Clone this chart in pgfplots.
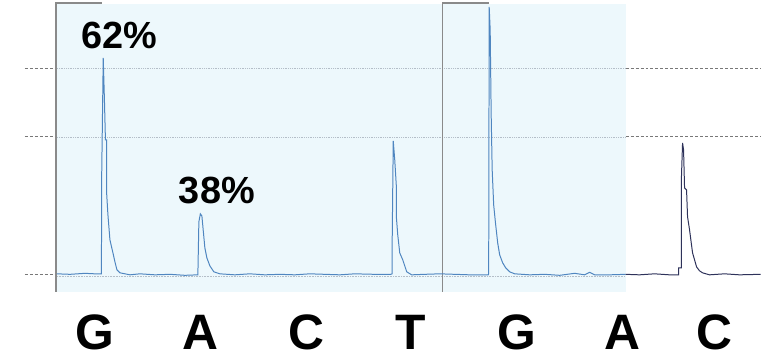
\documentclass[border=0pt]{standalone}
\usepackage{pgfplots}
\pgfplotsset{compat=1.18}
\usepackage{fontspec}
\setmainfont{Liberation Sans}
\definecolor{bluebg}{HTML}{EDF8FC}
\definecolor{trace}{HTML}{4F86C0}
\definecolor{navy}{HTML}{2E325A}
\definecolor{gridin}{HTML}{B4BEC8}
\definecolor{gridout}{HTML}{787878}
\definecolor{frame}{HTML}{8A8A8A}
\begin{document}
\begin{tikzpicture}
\begin{axis}[
  scale only axis, width=761bp, height=361bp,
  xmin=0, xmax=761, ymin=0, ymax=361, y dir=reverse,
  hide axis, clip=false,
]
% page background
\addplot[fill=white, draw=none] coordinates {(0,0)(761,0)(761,361)(0,361)} -- cycle;
% shaded region
\addplot[fill=bluebg, draw=none] coordinates {(57,4)(626,4)(626,292)(57,292)} -- cycle;
% grid lines inside
\addplot[gridin, densely dotted, line width=0.8pt] coordinates {(57,68.5)(626,68.5)};
\addplot[gridin, densely dotted, line width=0.8pt] coordinates {(57,137)(626,137)};
\addplot[gridin, densely dotted, line width=0.6pt] coordinates {(57,276)(626,276)};
% grid lines outside
\addplot[gridout, densely dashed, line width=0.9pt] coordinates {(25,68.5)(56,68.5)};
\addplot[gridout, densely dashed, line width=0.9pt] coordinates {(25,137)(56,137)};
\addplot[gridout, densely dashed, line width=0.9pt] coordinates {(25,275)(56,275)};
\addplot[gridout, densely dashed, line width=0.9pt] coordinates {(626,68.5)(761,68.5)};
\addplot[gridout, densely dashed, line width=0.9pt] coordinates {(626,137)(761,137)};
% frames
\addplot[frame, line width=1.3pt] coordinates {(56,292)(56,3)(102,3)};
\addplot[frame, line width=1.3pt] coordinates {(442.5,292)(442.5,3)(489,3)};
% trace, shaded part
\addplot[trace, line width=1pt] coordinates {
(57,274)(70,274.5)(85,273.5)(95,274)(101.5,274)(101.7,180)(103.3,58)(104.5,100)
(105.5,140)(106.7,140)(106.7,193)(108,215)(110,240)(113,253)(115,262)(117,270)
(120,273)(130,275)(140,274)(155,275)(170,274.5)(185,275.5)(198,275)(199,222)
(200.5,214)(202,216)(203.5,232)(205,248)(207,258)(210,266)(214,272)(220,274)
(235,275)(250,274)(265,275)(280,274.5)(295,275)(310,274)(325,274.5)(340,275)
(355,274)(375,274.5)(391,274.5)(392.3,274)(392.3,255)(393.5,141)(395,160)
(396.7,188)(396.7,218)(398,235)(400,253)(403,260)(405,266)(407,272)(412,275)
(425,274.5)(440,274)(455,274.5)(470,275)(488.5,275)(489,274)(489.5,7)(490.5,30)
(491.5,115)(492.5,170)(494,205)(496,225)(498,243)(500,255)(503,263)(506,268)
(510,272)(515,274)(530,275)(545,274.5)(560,275.5)(575,273.5)(585,275)(590,272.5)
(595,275)(610,275)(626,274.5)};
% trace, unshaded part
\addplot[navy, line width=1pt] coordinates {
(626,274.5)(640,275)(655,274)(670,275)(679,275)(679,268)(681.7,268)(681.7,183)
(683,143)(684,150)(685,188)(687,190)(688,217)(690,230)(693,253)(697,267)(700,271)
(703,273)(710,275)(725,274)(740,275)(761,274.5)};
% labels
\node[font=\fontsize{38}{40}\selectfont\bfseries] at (axis cs:119,35.5) {62\%};
\node[font=\fontsize{38}{40}\selectfont\bfseries] at (axis cs:217,191) {38\%};
\foreach \x/\l in {95/G,201/A,307/C,411/T,517/G,623/A,715/C}{
  \edef\tmp{\noexpand\node[anchor=base, inner sep=0pt, font=\noexpand\fontsize{50}{52}\noexpand\selectfont\noexpand\bfseries] at (axis cs:\x,350) {\l};}
  \tmp
}
\end{axis}
\end{tikzpicture}
\end{document}
